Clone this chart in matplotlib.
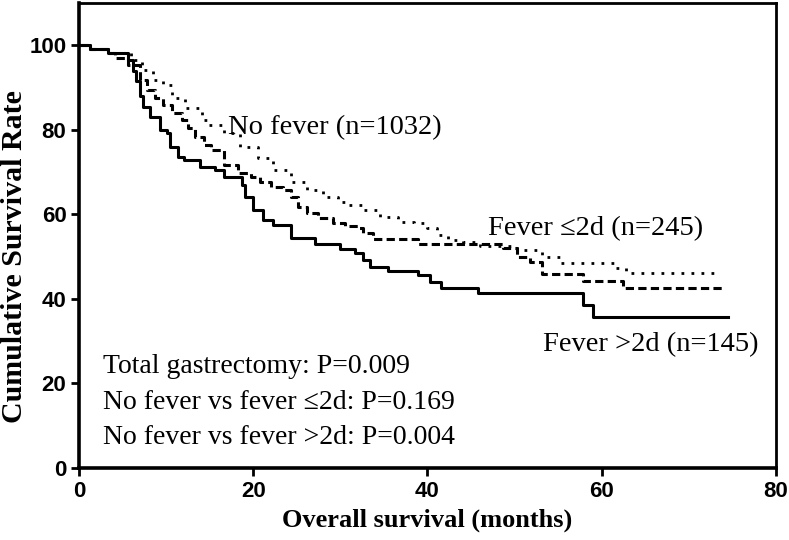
import matplotlib
matplotlib.use("Agg")
from matplotlib import pyplot as plt

# Kaplan-Meier steps (months, % surviving)
no_fever_t = [0, 1.3, 3.3, 6.0, 7.2, 8.5, 9.7, 10.7, 12.2, 14.1, 14.7, 16.6, 18.5, 20.5,
              22.3, 24.3, 26.2, 28.0, 29.7, 30.8, 32.6, 34.6, 36.6, 38.4, 40.0, 41.1,
              42.3, 44.1, 46.0, 50.3, 53.2, 55.3, 61.4, 62.8, 72.9]
no_fever_s = [100, 99.1, 98.1, 96.5, 94.1, 91.7, 90.5, 87.5, 85.1, 82.3, 81.1, 79.2, 75.9, 73.3,
              70.4, 67.6, 65.7, 64.1, 62.9, 62.2, 61.0, 59.3, 58.2, 57.9, 56.7, 55.1,
              53.9, 53.4, 52.5, 51.5, 49.9, 48.5, 47.3, 46.1, 46.1]

fever_le2_t = [0, 1.3, 3.3, 4.1, 5.6, 7.0, 7.8, 8.7, 9.7, 10.7, 11.8, 12.5, 13.3, 14.3,
               15.1, 16.6, 18.2, 19.7, 20.8, 22.0, 23.4, 24.3, 25.1, 26.2, 27.4, 29.2,
               30.5, 32.0, 32.6, 33.8, 38.9, 48.7, 50.3, 51.8, 53.2, 57.9, 62.4, 74.0]
fever_le2_s = [100, 99.1, 98.1, 97.0, 95.3, 91.7, 89.4, 87.5, 85.8, 83.9, 82.3, 80.4, 78.3, 76.4,
               75.2, 71.6, 69.7, 68.8, 67.6, 66.4, 65.7, 64.1, 61.7, 60.3, 59.1, 57.9,
               57.2, 56.7, 55.6, 54.1, 53.0, 52.0, 49.9, 48.7, 45.9, 44.2, 42.6, 42.6]

fever_gt2_t = [0, 1.3, 3.3, 5.6, 6.2, 6.6, 7.0, 7.4, 8.2, 9.3, 10.1, 10.5, 11.4, 12.0,
               13.9, 15.6, 16.6, 18.7, 19.1, 20.0, 21.1, 22.3, 24.3, 27.1, 30.0, 31.7,
               32.6, 33.4, 35.5, 38.9, 40.3, 41.5, 45.8, 57.8, 59.0, 74.5]
fever_gt2_s = [100, 99.1, 98.1, 96.5, 94.0, 91.5, 88.0, 85.3, 83.0, 80.0, 79.2, 75.9, 73.5, 72.8,
               71.2, 70.4, 68.8, 66.9, 64.0, 61.0, 58.6, 57.4, 54.4, 52.9, 51.8, 50.8,
               49.2, 47.6, 46.6, 45.6, 44.1, 42.5, 41.3, 38.5, 35.7, 35.7]

p_lines = ["Total gastrectomy: P=0.009",
           "No fever vs fever \u22642d: P=0.169",
           "No fever vs fever >2d: P=0.004"]

serif = ["Liberation Serif", "DejaVu Serif"]
sans = ["Liberation Sans", "DejaVu Sans"]

fig = plt.figure(figsize=(7.89, 5.4), dpi=100)
ax = fig.add_axes([0.1001, 0.1333, 0.8834, 0.8611])

ax.step(no_fever_t, no_fever_s, where="post", color="black", lw=2.0,
        linestyle=(0, (1, 2.6)))
ax.step(fever_le2_t, fever_le2_s, where="post", color="black", lw=2.2,
        linestyle=(0, (2.7, 1.4)))
ax.step(fever_gt2_t, fever_gt2_s, where="post", color="black", lw=2.2)

ax.set_xlim(0, 80)
ax.set_ylim(0, 110)
ax.set_xticks([0, 20, 40, 60, 80])
ax.set_yticks([0, 20, 40, 60, 80, 100])
ax.tick_params(direction="out", length=6, width=2, pad=3, labelsize=16)
for lab in ax.get_xticklabels() + ax.get_yticklabels():
    lab.set_family(sans)
    lab.set_fontweight("bold")
for side in ["left", "bottom"]:
    ax.spines[side].set_linewidth(2.6)
for side in ["top", "right"]:
    ax.spines[side].set_linewidth(2.0)

ax.set_xlabel("Overall survival (months)", family=serif, fontweight="bold",
              fontsize=19, labelpad=5)
fig.text(15 / 789, 1 - 257 / 540, "Cumulative Survival Rate", family=serif,
         fontweight="bold", fontsize=21.5, rotation=90, ha="center", va="center")

ax.text(17.1, 80.6, "No fever (n=1032)", family=serif, fontsize=20.5, va="center")
ax.text(46.9, 56.7, "Fever \u22642d (n=245)", family=serif, fontsize=20.5, va="center")
ax.text(53.3, 29.1, "Fever >2d (n=145)", family=serif, fontsize=20.5, va="center")
for i, line in enumerate(p_lines):
    ax.text(2.8, 23.9 - 8.3 * i, line, family=serif, fontsize=20, va="center")

plt.savefig("out.png", dpi=100)
